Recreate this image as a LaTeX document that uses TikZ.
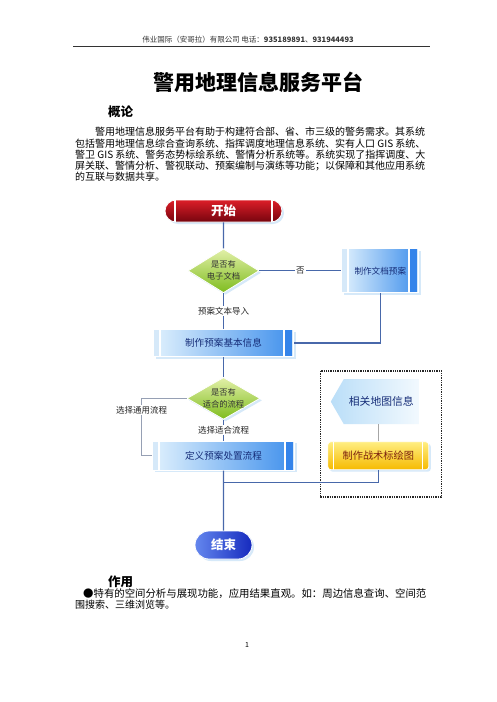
\documentclass[tikz,border=0pt]{standalone}
\usepackage{fontspec}
\setmainfont{Noto Sans CJK SC}
\usetikzlibrary{positioning,fit,calc,shapes.geometric,shapes.misc,shapes.symbols,shadows}

\definecolor{linkblue}{RGB}{72,104,170}
\definecolor{loopgray}{RGB}{150,160,180}
\definecolor{procink}{RGB}{22,45,120}
\definecolor{paleblue}{RGB}{214,233,249}
\definecolor{procleft}{RGB}{224,241,253}
\definecolor{procright}{RGB}{64,144,236}
\definecolor{stripblue}{RGB}{52,132,234}
\definecolor{redtop}{RGB}{220,30,40}
\definecolor{redbot}{RGB}{118,4,14}
\definecolor{bluelt}{RGB}{100,135,238}
\definecolor{bluedk}{RGB}{22,42,190}
\definecolor{greenlt}{RGB}{226,240,168}
\definecolor{greendk}{RGB}{126,188,30}
\definecolor{goldlt}{RGB}{255,238,130}
\definecolor{golddk}{RGB}{246,186,0}
\definecolor{goldink}{RGB}{125,35,15}
\definecolor{mapleft}{RGB}{186,222,248}
\definecolor{mapright}{RGB}{242,249,254}

\newcommand{\setfs}[1]{\fontsize{#1}{#1}\selectfont}

\begin{document}
\begin{tikzpicture}[
  x=1pt, y=-1pt,
  halo/.style={drop shadow={shadow xshift=2pt, shadow yshift=-2pt, fill=paleblue, opacity=1}},
  capsule/.style={rounded rectangle, draw=white, line width=0.8pt, inner sep=0pt, text=white, font=\setfs{12.5}\bfseries, halo},
  splits/.style={path picture={
    \draw[white, line width=1.2pt] ([xshift=#1]path picture bounding box.north west) -- ([xshift=#1]path picture bounding box.south west);
    \draw[white, line width=1.2pt] ([xshift=-#1]path picture bounding box.north east) -- ([xshift=-#1]path picture bounding box.south east);}},
  decide/.style={diamond, aspect=1.7, draw=white, line width=0.8pt, inner sep=-4pt, minimum width=71pt, minimum height=44pt, align=center, top color=greenlt, bottom color=greendk, text=black!80, font=\fontsize{8.3}{12}\selectfont, halo},
  proc/.style={rectangle, draw=white, line width=0.8pt, inner sep=0pt, left color=procleft, right color=procright, text=procink, font=\setfs{9.6}, halo, path picture={
    \fill[paleblue] (path picture bounding box.north west) rectangle ([xshift=5pt]path picture bounding box.south west);
    \fill[white] ([xshift=5pt]path picture bounding box.north west) rectangle ([xshift=7pt]path picture bounding box.south west);
    \fill[white] ([xshift=-11pt]path picture bounding box.north east) rectangle ([xshift=-9pt]path picture bounding box.south east);
    \fill[stripblue] ([xshift=-9pt]path picture bounding box.north east) rectangle ([xshift=-2pt]path picture bounding box.south east);
    \fill[paleblue] ([xshift=-2pt]path picture bounding box.north east) rectangle (path picture bounding box.south east);}},
  goldbox/.style={rectangle, rounded corners=3pt, draw=white, line width=0.8pt, inner sep=0pt, top color=goldlt, bottom color=golddk, text=goldink, font=\setfs{10.2}, splits=6pt, halo},
  mapbox/.style={signal, signal to=west, signal pointer angle=120, inner sep=0pt, left color=mapleft, right color=mapright, text=procink, font=\setfs{10.8}},
  dashframe/.style={draw=black!85, densely dotted, line width=1.3pt, inner sep=0pt},
  conn/.style={draw=linkblue, line width=1.3pt},
  loopline/.style={draw=loopgray, line width=0.9pt},
  lbl/.style={fill=white, inner sep=1pt, text=black!85, font=\setfs{8.5}},
  body/.style={anchor=base west, inner sep=0pt, font=\setfs{10}},
  head/.style={anchor=base west, inner sep=0pt, font=\setfs{12.5}\bfseries}
]
\fill[white] (0,0) rectangle (496,702);
\useasboundingbox (0,0) rectangle (496,702);

\node[anchor=base, inner sep=0pt, text=black!80, font=\setfs{7.5}] (header) at (248,42.9) {伟业国际（安哥拉）有限公司\ 电话：\textbf{935189891}、\textbf{931944493}};
\draw[black!80, line width=0.6pt] (73,46) -- (430,46);

\node[anchor=base, inner sep=0pt, font=\setfs{21}\bfseries] (title) at (258.5,90) {警用地理信息服务平台};
\node[head] (intro) at (108,116.8) {概论};
\node[body] (p1) at (95,135.8) {警用地理信息服务平台有助于构建符合部、省、市三级的警务需求。其系统};
\node[body] (p2) at (75,147.1) {包括警用地理信息综合查询系统、指挥调度地理信息系统、实有人口 GIS 系统、};
\node[body] (p3) at (75,158.3) {警卫 GIS 系统、警务态势标绘系统、警情分析系统等。系统实现了指挥调度、大};
\node[body] (p4) at (75,169.6) {屏关联、警情分析、警视联动、预案编制与演练等功能；以保障和其他应用系统};
\node[body] (p5) at (75,180.8) {的互联与数据共享。};

\node[capsule, top color=redtop, bottom color=redbot, splits=10pt, minimum width=117pt, minimum height=22pt] (start) at (223.5,211) {开始};
\node[decide, below=26pt of start] (hasdoc) {是否有\\电子文档};
\node[proc, right=82pt of hasdoc, minimum width=77pt, minimum height=44pt, font=\setfs{8.6}] (docplan) {制作文档预案};
\node[proc, below=36pt of hasdoc, minimum width=140pt, minimum height=27pt] (basic) {制作预案基本信息};
\node[decide, below=20pt of basic, minimum width=73pt, minimum height=42pt] (hasflow) {是否有\\适合的流程};
\node[proc, below=21pt of hasflow, minimum width=142pt, minimum height=29pt] (define) {定义预案处置流程};
\node[capsule, below=60pt of define, left color=bluelt, right color=bluedk, minimum width=57pt, minimum height=28pt] (stop) {结束};
\node[goldbox, right=32.5pt of define, minimum width=101pt, minimum height=28pt] (tactic) {制作战术标绘图};
\node[mapbox, above=17pt of tactic, xshift=3pt, minimum width=88pt, minimum height=45pt] (mapinfo) {相关地图信息};
\node[dashframe, fit={($(tactic.south west)+(-7,27)$) ($(mapinfo.north -| tactic.east)+(12,-8)$)}] (group) {};

\draw[conn] (start) -- (hasdoc);
\draw[conn] (hasdoc) -- node[lbl] {否} (docplan);
\draw[conn] (hasdoc) -- node[lbl] {预案文本导入} (basic);
\draw[conn] (docplan) |- (basic);
\draw[conn] (basic) -- (hasflow);
\draw[loopline] (hasflow.west) -- ++(-45pt,0) |- node[lbl, pos=0.1] {选择通用流程} (define.west);
\draw[conn] (hasflow) -- node[lbl] {选择适合流程} (define);
\draw[conn] (define) -- (stop);
\draw[conn] (tactic) |- ([yshift=-12pt]define.south);
\draw[black!35] (tactic.north) -- (tactic.north |- mapinfo.south);

\node[head] (usage) at (108,586.8) {作用};
\node[body, font=\setfs{10.4}] (b1) at (83,597) {●特有的空间分析与展现功能，应用结果直观。如：周边信息查询、空间范};
\node[body] (b2) at (75,608) {围搜索、三维浏览等。};
\node[anchor=base, inner sep=0pt, font=\setfs{7}] (page) at (247,647.5) {1};
\end{tikzpicture}
\end{document}
